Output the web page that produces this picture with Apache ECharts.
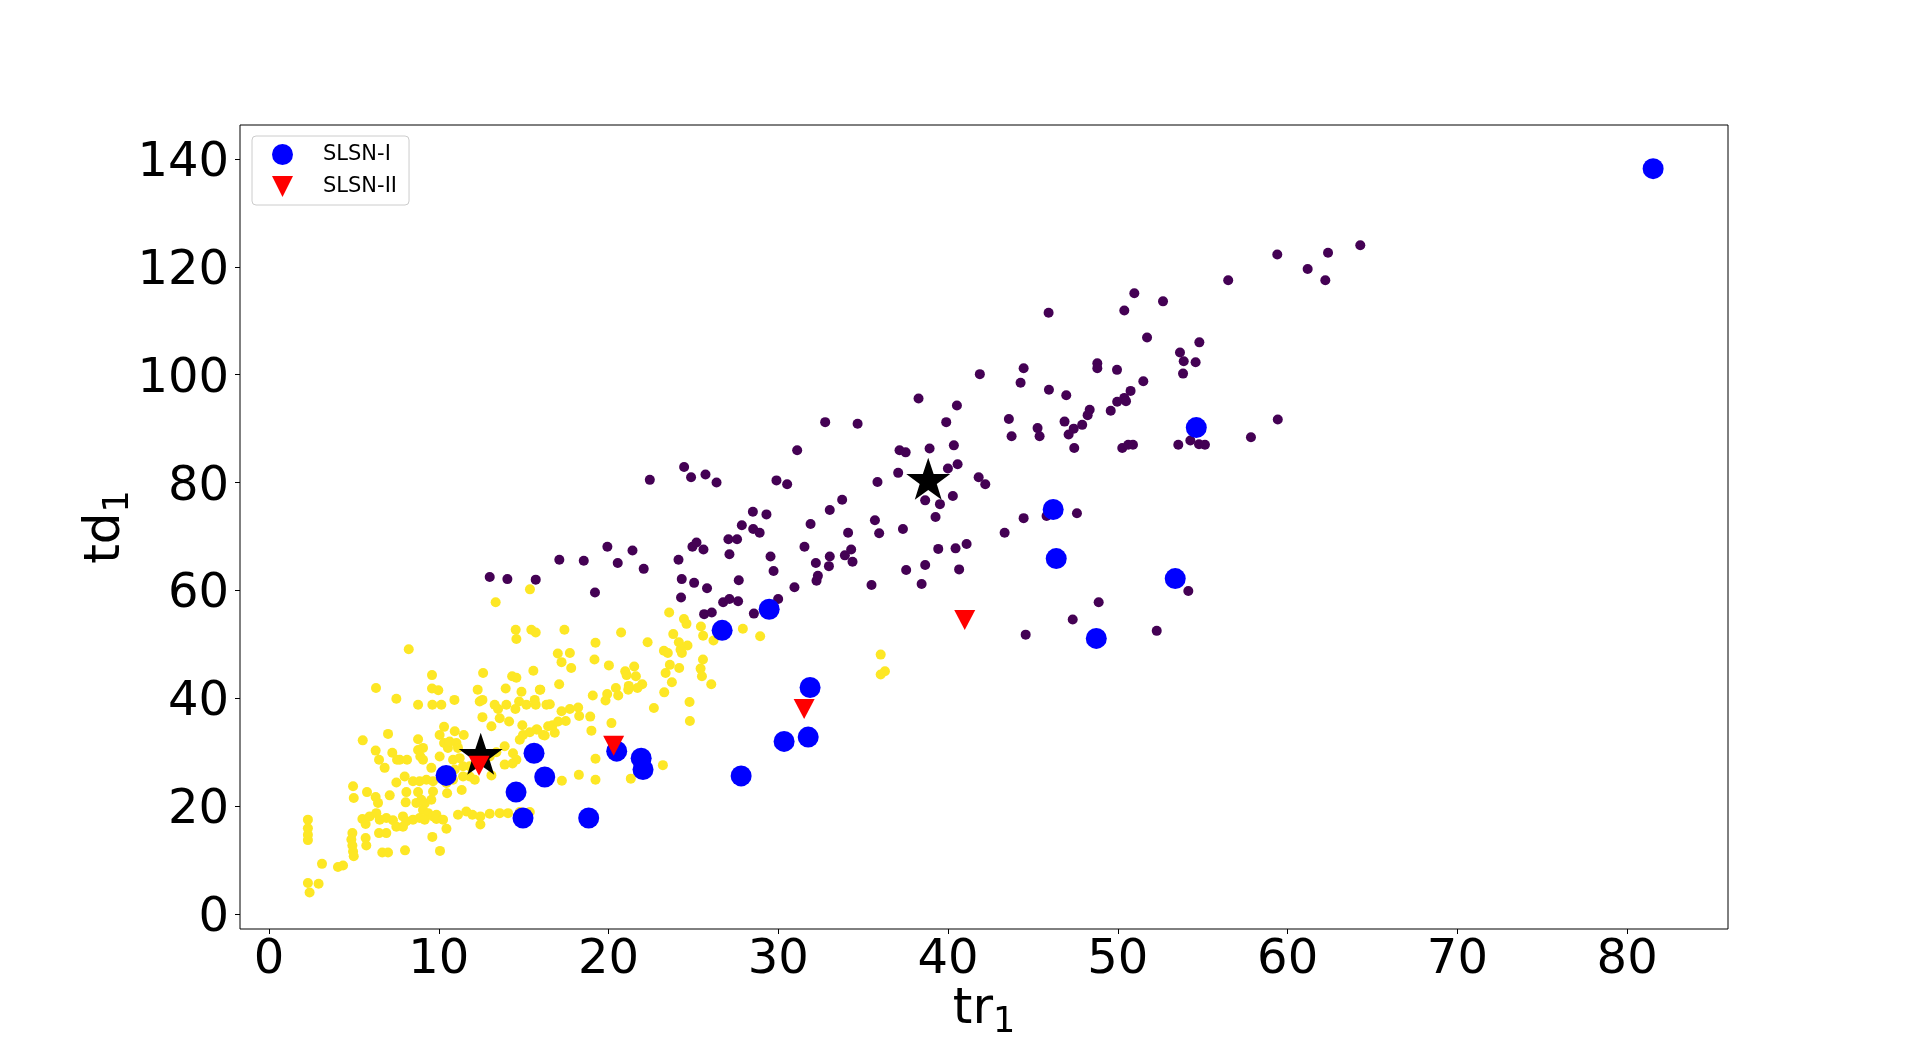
<!DOCTYPE html>
<html>
<head>
<meta charset="utf-8">
<script src="https://cdn.jsdelivr.net/npm/echarts@6/dist/echarts.min.js"></script>
<style>
  html, body { margin: 0; padding: 0; background: #fff; }
  #main { width: 1920px; height: 1044px; }
</style>
</head>
<body>
<div id="main"></div>
<script>
// 刻度
var xTicks = [0, 10, 20, 30, 40, 50, 60, 70, 80];
var yTicks = [0, 20, 40, 60, 80, 100, 120, 140];

// 类别 0 (紫色)
var cluster0 = [
  [24.45,82.9],[24.86,81.0],[25.71,81.5],[26.36,80.0],[22.43,80.5],[28.5,74.6],[27.85,72.1],[28.52,71.4],
  [28.9,70.7],[27.06,69.5],[27.57,69.5],[24.94,68.1],[25.18,68.9],[25.59,67.6],[27.12,66.7],[24.12,65.7],
  [19.93,68.1],[21.41,67.4],[20.54,65.1],[22.07,64.0],[17.1,65.7],[18.54,65.5],[13.0,62.5],[14.04,62.1],
  [15.71,62.0],[19.2,59.6],[24.31,62.1],[25.04,61.4],[25.8,60.4],[27.67,61.9],[24.27,58.7],[26.75,57.8],
  [27.12,58.4],[27.63,58.0],[25.63,55.6],[26.08,55.9],[28.56,55.7],
  [38.26,95.6],[40.52,94.3],[32.76,91.2],[34.67,90.9],[39.89,91.2],[31.11,86.0],[37.14,86.0],[37.5,85.6],
  [38.91,86.3],[40.34,86.9],[40.56,83.4],[39.99,82.6],[37.06,81.8],[29.89,80.4],[30.52,79.7],[35.84,80.1],
  [41.8,81.0],[42.19,79.7],[38.65,76.7],[39.52,76.0],[40.28,77.5],[39.26,73.6],[33.76,76.8],[33.03,74.9],
  [29.3,74.1],[31.9,72.3],[35.69,73.0],[35.94,70.6],[37.34,71.4],[34.11,70.7],[31.54,68.1],[29.54,66.3],
  [29.72,63.6],[33.03,66.3],[32.98,64.5],[32.21,65.1],[33.92,66.5],[34.29,67.6],[34.37,65.3],[32.25,61.8],
  [32.33,62.7],[30.95,60.6],[29.99,58.4],[35.49,61.0],[37.53,63.8],[38.65,64.7],[38.44,61.2],[39.42,67.7],
  [40.44,67.8],[41.09,68.6],[40.65,63.9],[41.87,100.1],
  [64.28,124.0],[62.38,122.6],[59.39,122.3],[61.18,119.6],[62.22,117.5],[56.5,117.5],[50.97,115.1],
  [52.66,113.6],[50.38,111.9],[45.92,111.5],[51.72,106.9],[54.8,106.0],[53.66,104.1],[53.88,102.5],
  [54.58,102.3],[53.84,100.2],[48.79,102.1],[48.79,101.2],[49.95,100.9],[44.45,101.2],[44.27,98.5],
  [45.94,97.2],[46.96,96.2],[51.5,98.8],[50.75,97.0],[50.38,95.7],[49.96,95.0],[50.48,95.1],[49.58,93.3],
  [48.34,93.5],[48.22,92.5],[47.9,90.7],[47.4,90.0],[47.1,88.9],[46.86,91.3],[47.43,86.4],[43.58,91.8],
  [43.74,88.6],[45.27,90.1],[45.39,88.6],[50.26,86.4],[50.61,87.0],[50.89,87.0],[53.56,87.0],[54.27,87.8],
  [54.78,87.1],[55.13,87.0],[57.84,88.4],[59.42,91.7],
  [44.45,73.4],[45.8,73.8],[47.59,74.3],[43.33,70.7],[48.87,57.8],[47.34,54.6],[44.57,51.8],[52.29,52.5],
  [54.15,59.9]
];

// 类别 1 (黄色)
var cluster1 = [
  [14.53,52.7],[14.57,51.0],[15.45,52.7],[15.71,52.2],[8.23,49.1],[9.6,44.3],[12.61,44.7],[14.32,44.1],
  [14.57,43.8],[15.57,45.1],[6.3,41.9],[9.6,41.8],[9.97,41.5],[12.29,41.6],[13.94,41.8],[14.87,41.2],
  [15.98,41.6],[7.5,39.9],[8.78,38.8],[9.62,38.8],[10.15,38.8],[10.92,39.7],[12.41,39.4],[12.57,39.7],
  [13.29,38.8],[13.49,38.0],[13.98,38.8],[14.51,38.0],[14.73,39.4],[15.16,38.8],[15.71,38.8],[15.65,39.7],
  [16.34,38.8],[12.57,36.5],[13.59,36.3],[14.14,35.7],[14.92,35.0],[15.79,34.2],[16.14,33.2],[16.44,34.8],
  [10.31,34.7],[10.94,33.9],[11.47,33.2],[10.05,33.2],[13.1,34.8],[7.01,33.4],[5.52,32.2],[8.78,32.4],
  [10.31,31.7],[10.54,30.8],[10.64,32.0],[11.04,31.7],[11.13,30.8],[6.28,30.3],[7.26,29.9],[8.78,30.4],
  [9.07,30.8],[8.91,29.2],[6.48,28.6],[7.54,28.6],[7.7,28.6],[8.13,28.6],[9.07,28.6],[10.05,29.2],
  [10.84,28.6],[11.23,28.9],[11.82,27.4],[13.0,29.2],[13.39,30.0],[13.88,31.1],[14.37,29.8],[13.88,27.7],
  [14.34,27.9],[14.57,28.6],[14.77,32.3],[14.96,33.2],[15.36,33.7],[15.75,34.2],[6.81,27.1],[9.56,27.1],
  [10.64,26.4],[10.94,26.8],[11.43,27.4],[11.82,25.5],[10.45,24.3],[10.84,24.9],[11.43,25.5],[12.12,24.9],
  [13.1,25.7],[7.5,24.4],[7.99,25.5],[8.48,24.6],[8.87,24.6],[9.27,24.9],[9.66,24.6],[4.95,23.7],
  [5.77,22.6],[6.28,21.7],[6.42,20.6],[4.99,21.5],[7.11,22.0],[8.09,22.6],[8.05,20.7],[8.78,22.6],
  [8.68,20.6],[8.97,21.2],[9.17,20.5],[9.07,19.3],[9.56,21.2],[9.66,22.7],[9.37,18.7],[9.86,18.4],
  [10.49,22.4],[11.35,23.0],[5.5,17.6],[5.93,18.1],[6.32,18.7],[6.52,17.5],[5.69,16.7],[6.91,17.8],
  [7.3,17.4],[7.5,16.2],[7.89,18.1],[8.09,17.2],[7.89,16.2],[8.48,17.5],[8.87,17.8],[9.17,17.5],
  [9.66,18.1],[9.86,17.6],[10.25,17.5],[10.45,15.8],[11.13,18.4],[11.62,19.0],[11.98,18.4],[12.45,18.1],
  [12.45,16.6],[13.0,18.6],[13.59,18.7],[14.08,18.7],[14.77,18.9],[15.36,18.9],[6.48,15.0],[6.91,15.0],
  [9.62,14.3],[2.29,17.5],[2.29,15.9],[2.29,14.7],[2.29,13.7],[4.91,15.0],[4.85,13.8],[4.91,12.7],
  [4.95,11.6],[4.99,10.7],[5.69,14.1],[5.73,12.7],[6.67,11.4],[7.01,11.4],[8.01,11.8],[10.07,11.7],
  [3.12,9.3],[4.06,8.7],[4.36,9.0],[2.29,5.75],[2.92,5.6],[2.39,4.0],
  [15.37,60.2],[13.35,57.8],
  [23.57,55.9],[24.44,54.7],[24.59,53.8],[25.44,53.3],[25.57,51.6],[26.18,50.7],[27.91,52.9],[28.93,51.5],
  [17.4,52.7],[20.74,52.2],[19.23,50.3],[22.3,50.4],[23.81,51.9],[24.14,50.4],[24.65,49.8],[23.26,48.8],
  [23.49,48.4],[24.32,48.4],[24.24,49.0],[17.01,48.3],[17.72,48.4],[17.23,46.7],[17.8,45.6],[19.17,47.2],
  [20.02,46.1],[20.98,45.0],[21.51,45.9],[21.61,44.1],[21.06,44.3],[23.61,46.2],[24.16,45.6],[23.36,44.7],
  [25.56,47.2],[25.42,45.5],[25.5,44.1],[17.09,42.6],[21.98,42.6],[21.7,41.9],[21.19,42.3],[21.16,41.6],
  [20.43,41.9],[19.92,40.8],[20.57,40.5],[19.82,39.6],[19.07,40.5],[23.73,42.96],[23.28,41.1],[26.05,42.6],
  [22.67,38.2],[24.77,39.3],[24.79,35.8],[15.95,41.6],[16.54,38.9],[17.23,37.6],[17.72,38.0],[18.21,38.3],
  [18.27,36.7],[18.92,36.6],[16.7,35.0],[17.03,35.7],[17.48,35.8],[16.83,33.6],[16.24,33.1],[18.99,34.0],
  [20.17,35.4],[19.23,28.8],[18.25,25.8],[19.23,24.9],[17.25,24.7],[21.31,25.1],[23.2,27.6],
  [36.03,48.1],[36.03,44.4],[36.28,45.0]
];

// 聚类中心 (星号)
var centers = [[12.47, 29.7], [38.83, 80.7]];

// SLSN-I
var slsn1 = [
  [81.53,138.2],[54.62,90.2],[46.19,75.0],[46.37,65.9],[53.38,62.2],[48.73,51.1],[29.46,56.5],
  [26.69,52.6],[31.87,42.0],[31.76,32.8],[30.34,32.0],[27.81,25.6],[20.48,30.2],[21.92,28.9],
  [22.03,26.8],[18.83,17.8],[15.61,29.8],[16.24,25.4],[14.55,22.6],[14.96,17.8],[10.43,25.7]
];

// SLSN-II
var slsn2 = [[12.37, 27.5], [20.3, 31.2], [31.52, 38.0], [40.98, 54.5]];

var starPath = 'path://M50,0L61.8,35.1L98.1,35.1L68.7,56.8L79.4,91L50,70L20.6,91L31.3,56.8L1.9,35.1L38.2,35.1Z';
var downTri = 'path://M0,0L10,0L5,10Z';
var fontFamily = 'DejaVu Sans';

var chart = echarts.init(document.getElementById('main'));

var option = {
    animation: false,
    backgroundColor: '#ffffff',
    textStyle: { fontFamily: fontFamily },
    grid: {
        left: 240, right: 192, top: 125, bottom: 115,
        outerBoundsMode: 'none',
        containLabel: false,
        show: true, borderColor: '#000', borderWidth: 1, backgroundColor: 'transparent'
    },
    legend: {
        orient: 'vertical',
        left: 252, top: 136,
        padding: [8, 12, 8, 20],
        itemWidth: 21, itemHeight: 21, itemGap: 11,
        borderColor: '#cccccc', borderWidth: 1, borderRadius: 4,
        backgroundColor: 'rgba(255,255,255,0.8)',
        textStyle: { fontSize: 21, color: '#000', fontFamily: fontFamily, padding: [0, 0, 0, 25] },
        data: [
            { name: 'SLSN-I', icon: 'circle' },
            { name: 'SLSN-II', icon: downTri }
        ]
    },
    xAxis: {
        type: 'value',
        min: -1.71, max: 85.94,
        name: '{m|tr}{s|1}',
        nameLocation: 'middle',
        nameGap: 51,
        nameMoveOverlap: false,
        nameTextStyle: {
            rich: {
                m: { fontSize: 50, fontFamily: fontFamily, color: '#000', lineHeight: 60 },
                s: { fontSize: 35, fontFamily: fontFamily, color: '#000', lineHeight: 32, verticalAlign: 'bottom' }
            }
        },
        splitLine: { show: false },
        axisLine: { show: false, onZero: false },
        axisTick: { show: true, length: 5, customValues: xTicks, lineStyle: { color: '#000' } },
        axisLabel: { customValues: xTicks, fontSize: 48, color: '#000', margin: 8, fontFamily: fontFamily }
    },
    yAxis: {
        type: 'value',
        min: -2.78, max: 146.3,
        name: '{m|td}{s|1}',
        nameLocation: 'middle',
        nameGap: 104,
        nameMoveOverlap: false,
        nameTextStyle: {
            rich: {
                m: { fontSize: 50, fontFamily: fontFamily, color: '#000', lineHeight: 60 },
                s: { fontSize: 35, fontFamily: fontFamily, color: '#000', lineHeight: 32, verticalAlign: 'bottom' }
            }
        },
        splitLine: { show: false },
        axisLine: { show: false, onZero: false },
        axisTick: { show: true, length: 5, customValues: yTicks, lineStyle: { color: '#000' } },
        axisLabel: {
            customValues: yTicks, color: '#000', margin: 11, fontFamily: fontFamily,
            formatter: function (v) { return '{a|' + v + '}'; },
            rich: {
                a: { fontSize: 48, fontFamily: fontFamily, color: '#000', padding: [9, 0, 0, 0] }
            }
        }
    },
    series: [
        {
            name: 'cluster0', type: 'scatter', data: cluster0,
            symbolSize: 10, itemStyle: { color: '#440154', opacity: 1 }
        },
        {
            name: 'cluster1', type: 'scatter', data: cluster1,
            symbolSize: 10, itemStyle: { color: '#fde725', opacity: 1 }
        },
        {
            name: 'centers', type: 'scatter', data: centers,
            symbol: starPath, symbolSize: [44, 42], itemStyle: { color: '#000', opacity: 1 }
        },
        {
            name: 'SLSN-I', type: 'scatter', data: slsn1,
            symbolSize: 21, itemStyle: { color: '#0000ff', opacity: 1 }
        },
        {
            name: 'SLSN-II', type: 'scatter', data: slsn2,
            symbol: downTri, symbolSize: [21, 20], itemStyle: { color: '#ff0000', opacity: 1 }
        }
    ]
};

chart.setOption(option);
</script>
</body>
</html>
